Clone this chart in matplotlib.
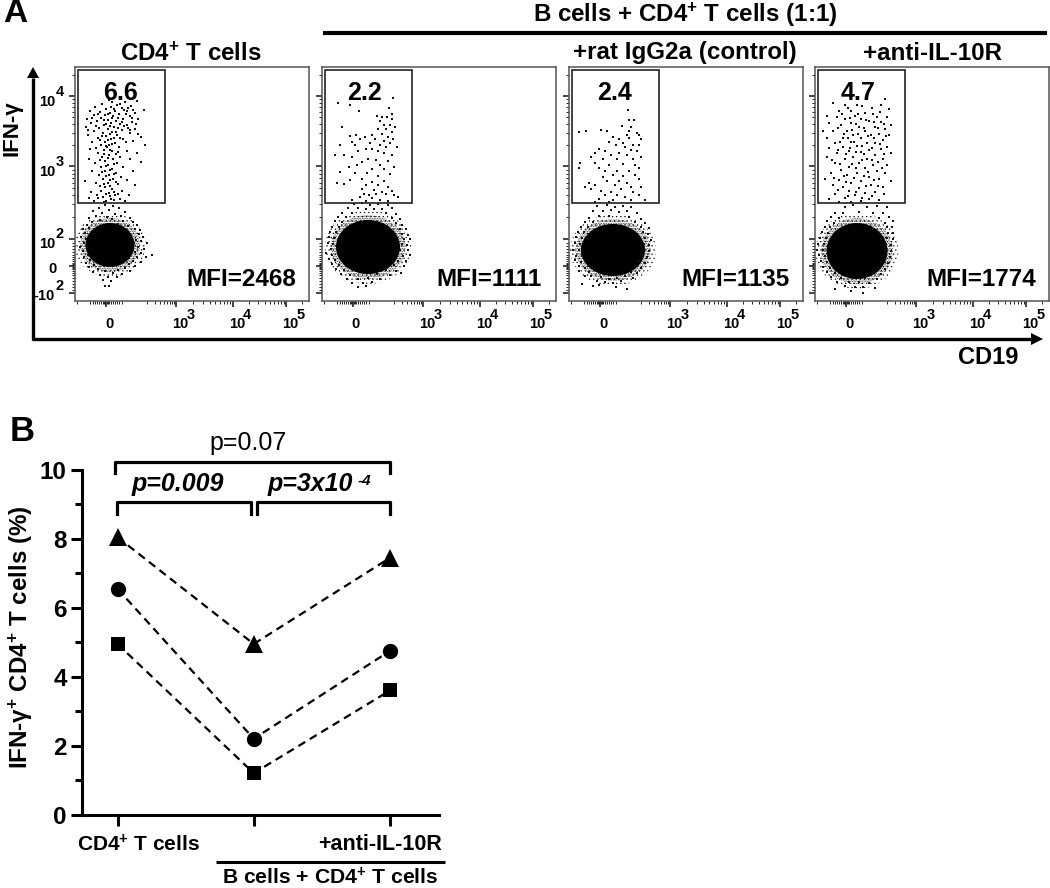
import numpy as np
import matplotlib
matplotlib.use('Agg')
import matplotlib.pyplot as plt
from matplotlib.patches import Ellipse, Rectangle

plt.rcParams['font.family'] = ['Liberation Sans', 'DejaVu Sans']
plt.rcParams['mathtext.fontset'] = 'custom'
plt.rcParams['mathtext.rm'] = 'Liberation Sans:bold'
plt.rcParams['mathtext.default'] = 'rm'
plt.rcParams['hatch.linewidth'] = 0.4

# panel B values
groups = ['CD4$^{+}$ T cells', '', '+anti-IL-10R']
triangle_vals = [8.05, 4.95, 7.45]
circle_vals = [6.55, 2.2, 4.75]
square_vals = [4.95, 1.2, 3.6]

# panel A labels
panel_gates = ['6.6', '2.2', '2.4', '4.7']
panel_mfi = ['MFI=2468', 'MFI=1111', 'MFI=1135', 'MFI=1774']

# cells, in cytometer channels (x, y), y counted from the top
gate_1 = [(34,33),(62,34),(50,35),(27,37),(42,38),(56,39),(20,40),(36,40),(47,41),(69,43),(31,42),(15,44),
          (40,44),(52,44),(25,45),(60,46),(35,46),(44,47),(19,48),(30,48),(55,49),(38,49),(12,52),(26,51),
          (48,52),(63,52),(33,53),(41,54),(22,54),(57,55),(16,56),(36,56),(45,57),(29,58),(52,58),(11,60),
          (39,60),(24,61),(33,62),(60,62),(47,63),(19,64),(37,65),(28,66),(55,66),(13,68),(42,68),(31,69),
          (66,70),(23,71),(36,72),(48,72),(58,74),(17,75),(30,75),(40,76),(26,78),(34,78),(70,78),(44,80),
          (15,82),(32,80),(29,83),(37,84),(52,84),(23,86),(41,87),(62,86),(34,88),(27,90),(45,90),(14,92),
          (38,92),(55,92),(30,94),(20,96),(42,96),(33,98),(66,95),(26,100),(48,100),(37,102),(17,104),(30,104),
          (58,104),(41,106),(24,108),(34,108),(46,110),(28,112),(38,112),(10,114),(52,113),(21,116),(33,116),
          (43,117),(30,120),(60,118),(37,122),(26,124),(16,125),(47,124),(34,126),(22,128),(40,128),(54,128),
          (28,130),(14,131),(36,132),(45,132),(19,134),(31,134),(50,134),
          (37,35),(45,37),(53,41),(39,42),(49,43),(58,43),(33,47),(43,51),(51,47),(37,51),(29,53),(47,55),
          (35,59),(43,61),(31,57),(53,61),(41,65),(21,59),(35,67),(27,69),(45,71),(33,73),(39,71),(25,73),
          (31,79),(37,77),(29,87),(35,83),(43,85),(33,91),(25,93),(39,97),(31,99),(35,103),(27,105),(39,107),
          (31,109),(35,113),(29,117),(41,115),(35,119),(25,119),(39,125),(31,127),(23,131),(43,127),(35,129),
          (29,135),(39,133),(57,51),(61,57),(49,59),(55,63),(63,67),(17,51),(23,47),(13,63),(21,81),(51,75)]
halo_1 = [(30,138),(38,139),(24,141),(44,141),(18,144),(34,143),(50,145),(27,146),(40,147),(21,149),(46,149),
          (14,151),(32,150),(55,151),(37,152),(25,153),(48,154),(17,155),(58,155),(12,158),(43,157),(62,158),
          (8,162),(53,159),(14,161),(60,162),(65,163),(10,166),(64,167),(6,170),(68,170),(11,172),(61,173),
          (66,174),(9,176),(59,176),(72,176),(5,180),(12,180),(63,180),(69,182),(8,184),(60,185),(66,186),
          (13,188),(62,190),(9,190),(71,190),(77,188),(15,193),(58,194),(66,195),(11,196),(54,197),(19,198),
          (60,199),(14,200),(50,201),(23,202),(43,203),(30,204),(55,204),(18,205),(38,206),(47,207),(25,208),
          (33,210),(42,210),(28,213),(36,214),(30,219),(34,219)]
gate_2 = [(16,36),(28,38),(37,44),(71,31),(67,41),(70,47),(55,49),(60,50),(65,50),(58,54),(70,52),(68,58),
          (62,58),(73,60),(20,60),(56,62),(64,62),(70,65),(28,69),(34,68),(50,68),(60,67),(66,70),(43,70),
          (53,72),(71,72),(62,74),(38,72),(30,75),(48,76),(68,76),(58,78),(18,78),(33,78),(64,80),(75,80),
          (50,82),(44,82),(13,88),(22,88),(36,84),(56,84),(62,86),(70,88),(30,90),(46,92),(54,93),(66,94),
          (40,95),(35,98),(58,98),(72,100),(27,100),(50,102),(62,102),(18,105),(33,106),(45,106),(68,107),
          (56,109),(40,112),(28,113),(62,114),(50,115),(15,116),(22,117),(44,118),(56,118),(66,120),(40,122),
          (52,123),(60,125),(70,124),(42,127),(47,128),(54,127),(64,127),(72,128),(38,130),(50,131),(76,130),
          (30,133),(58,133),(66,134),(44,134)]
halo_2 = [(32,137),(40,136),(48,138),(56,137),(66,138),(26,141),(36,141),(44,142),(52,142),(60,142),(70,141),
          (20,146),(30,146),(64,146),(74,147),(16,150),(24,150),(70,151),(78,152),(13,154),(20,155),(74,156),
          (80,158),(10,160),(17,160),(78,162),(84,162),(8,165),(14,165),(80,167),(86,168),(7,170),(12,171),
          (82,172),(88,172),(6,176),(11,177),(80,177),(85,178),(9,182),(78,183),(86,183),(4,186),(10,188),
          (81,189),(88,188),(7,192),(13,193),(76,194),(84,194),(10,197),(17,198),(72,198),(82,199),(14,202),
          (22,203),(64,203),(74,204),(79,206),(19,207),(28,208),(55,207),(68,208),(25,212),(36,212),(46,211),
          (58,212),(30,216),(41,216),(50,215),(36,220),(44,219)]
gate_3 = [(59,43),(60,53),(65,53),(53,59),(62,60),(60,64),(10,65),(17,64),(32,63),(38,64),(68,66),(70,68),
          (58,68),(44,70),(50,72),(60,71),(72,72),(40,75),(54,76),(64,78),(47,78),(70,78),(56,80),(30,82),
          (62,83),(36,84),(50,86),(68,84),(26,86),(42,88),(58,88),(22,90),(72,90),(34,92),(48,92),(64,92),
          (11,96),(26,96),(40,98),(54,97),(66,98),(10,101),(30,101),(70,101),(36,104),(48,104),(60,104),
          (34,110),(44,108),(54,109),(66,108),(70,112),(50,114),(58,116),(20,116),(26,118),(38,114),(46,118),
          (16,120),(62,120),(72,120),(22,122),(52,122),(32,124),(42,125),(64,125),(48,128),(36,128),(70,128),
          (56,130),(30,132),(44,133),(62,133),(76,133),(26,135),(40,135)]
halo_3 = [(28,139),(38,138),(46,140),(54,139),(62,140),(24,144),(34,144),(42,143),(50,145),(58,144),(68,146),
          (30,149),(40,149),(60,150),(20,151),(72,152),(16,155),(24,155),(66,155),(76,156),(12,160),(19,160),
          (72,160),(80,161),(9,165),(15,165),(74,165),(79,167),(7,170),(13,171),(76,171),(82,173),(6,176),
          (11,177),(75,177),(80,178),(4,183),(10,183),(73,183),(80,184),(7,189),(13,189),(74,189),(78,190),
          (6,193),(12,195),(70,194),(76,196),(10,199),(16,201),(66,199),(72,201),(10,204),(20,205),(62,205),
          (68,206),(22,209),(32,210),(56,209),(64,211),(16,209),(40,212),(48,211),(28,214),(52,214),(36,215),
          (44,216),(13,217),(24,219),(47,220),(58,222),(30,218)]
gate_4 = [(70,32),(18,36),(30,38),(42,38),(66,38),(74,42),(24,44),(36,44),(50,46),(58,47),(12,49),(22,50),
          (40,49),(62,50),(72,50),(30,52),(46,52),(54,54),(66,55),(14,56),(36,56),(76,58),(26,58),(44,60),
          (60,60),(70,62),(8,64),(18,64),(32,64),(50,64),(38,68),(64,67),(56,68),(74,68),(12,71),(28,71),
          (46,71),(68,73),(36,75),(20,76),(52,76),(60,76),(42,79),(28,80),(72,80),(14,81),(54,83),(66,82),
          (34,84),(46,85),(22,86),(76,86),(60,88),(38,90),(12,90),(52,92),(30,92),(68,92),(44,96),(20,96),
          (58,98),(72,98),(34,100),(50,101),(26,103),(62,104),(16,106),(42,106),(70,106),(32,108),(54,110),
          (10,112),(24,113),(46,114),(64,112),(36,116),(76,114),(18,118),(56,118),(28,120),(44,121),(68,120),
          (34,124),(50,126),(60,125),(20,127),(40,128),(30,131),(54,132),(14,132),(46,134),(36,135),(64,133),
          (24,135),
          (33,41),(47,39),(57,41),(27,47),(43,47),(65,45),(51,53),(35,51),(59,55),(41,57),(69,57),(23,61),
          (49,61),(37,63),(63,61),(29,67),(53,69),(43,67),(71,69),(33,71),(59,71),(25,75),(39,75),(47,79),
          (65,77),(35,81),(57,81),(23,83),(49,87),(41,85),(69,87),(31,87),(57,93),(17,93),(47,93),(63,95),
          (37,97),(25,97),(53,105),(41,101),(67,101),(29,109),(49,109),(19,111),(59,113),(39,111),(31,115),
          (51,119),(63,119),(23,123),(41,125),(69,127),(33,129),(57,129),(47,131)]
halo_4 = [(30,140),(38,138),(52,140),(62,139),(72,140),(20,146),(28,146),(44,145),(58,146),(68,146),(16,150),
          (24,151),(64,151),(74,150),(12,154),(19,156),(70,156),(78,154),(10,160),(15,160),(72,160),(77,160),
          (7,165),(13,166),(73,166),(78,166),(5,171),(11,171),(72,171),(78,172),(3,177),(9,177),(71,177),
          (76,178),(2,183),(8,183),(70,183),(76,184),(4,188),(10,189),(68,189),(75,190),(6,194),(12,195),
          (66,195),(73,196),(8,200),(15,201),(63,200),(70,202),(12,205),(20,206),(58,206),(66,207),(16,210),
          (26,211),(50,211),(62,212),(22,215),(34,215),(44,215),(54,216),(30,219),(40,220),(48,220),(60,221),
          (20,222),(36,224),(48,226)]
panel_gate_cells = [gate_1, gate_2, gate_3, gate_4]
panel_halo_cells = [halo_1, halo_2, halo_3, halo_4]

# dense population: centre x, centre y, width, height
core_1 = (35, 178, 45, 40)
core_2 = (46, 180, 60, 50)
core_3 = (44, 183, 60, 48)
core_4 = (42, 184, 57, 52)
panel_cores = [core_1, core_2, core_3, core_4]

W, H = 1050, 888
fig = plt.figure(figsize=(W / 100, H / 100), dpi=100)

# overlay in pixels for labels, brackets and the long arrows
ov = fig.add_axes([0, 0, 1, 1])
ov.set_xlim(0, W)
ov.set_ylim(H, 0)
ov.axis('off')


def pix_axes(left, top, right, bottom):
    return fig.add_axes([left / W, 1 - bottom / H, (right - left) / W, (bottom - top) / H])


def log_ticks(p10, decade, last=9):
    return [p10 + decade * np.log10(m) for m in range(2, last + 1)]


# flow plots
panel_left = [75, 322, 569, 815]
gate_text_x = [45, 42, 45, 43]
x_major = [31, 101, 157.5, 211]
x_minor = [2, 15, 18, 20, 22, 24, 26, 28, 29, 30, 32, 33, 34, 36, 38, 40, 42, 44, 47] \
    + log_ticks(60, 41) + log_ticks(101, 56.5) + log_ticks(157.5, 53.5) + log_ticks(211, 53, 2)
y_major = [29, 99.5, 172, 199, 226]
y_minor = log_ticks(99.5, -70.5) + log_ticks(172, -72.5) + log_ticks(29, -70.5, 2) \
    + [176, 179, 182, 185, 188, 190, 192, 194, 196, 197, 198, 200, 201, 202, 204, 206, 208, 211, 214, 217, 220, 223]

for i, left in enumerate(panel_left):
    ax = pix_axes(left, 67, left + 234, 301)
    ax.set_xlim(0, 234)
    ax.set_ylim(234, 0)
    for s in ax.spines.values():
        s.set_color('#555555')
        s.set_linewidth(1.1)
    ax.set_xticks(x_major)
    ax.set_xticks(x_minor, minor=True)
    ax.set_yticks(y_major)
    ax.set_yticks(y_minor, minor=True)
    ax.set_xticklabels([])
    ax.set_yticklabels([])
    ax.tick_params(which='major', length=4.5, width=1.1, color='#111111')
    ax.tick_params(which='minor', length=2.5, width=0.7, color='#222222')

    cx, cy, cw, ch = panel_cores[i]
    ax.add_patch(Ellipse((cx, cy), cw + 26, ch + 24, fc='none', ec='#111111', lw=0, hatch='....'))
    ax.add_patch(Ellipse((cx, cy), cw + 15, ch + 14, fc='none', ec='#000000', lw=0, hatch='..........'))
    ax.add_patch(Ellipse((cx, cy), cw + 4, ch + 4, fc='#000000', ec='none'))

    pts = panel_gate_cells[i] + panel_halo_cells[i]
    ax.scatter([p[0] for p in pts], [p[1] for p in pts], s=1.3, marker='s', c='#111111', linewidths=0)
    ax.add_patch(Rectangle((3, 3), 86.5, 133, fc='none', ec='#222222', lw=1.2))

    ax.text(gate_text_x[i], 25.5, panel_gates[i], ha='center', va='center', fontsize=18, fontweight='bold')
    ax.text(166.5, 213, panel_mfi[i], ha='center', va='center', fontsize=17.5, fontweight='bold')

    # biexponential tick labels under each plot
    for tx, ex, t, e in [(109, None, '0', None), (180, 190.7, '10', '3'),
                         (237, 247, '10', '4'), (290.5, 301, '10', '5')]:
        ov.text(tx - 75 + left, 324, t, ha='center', va='center', fontsize=10.5, fontweight='bold')
        if e:
            ov.text(ex - 75 + left, 315, e, ha='center', va='center', fontsize=10.5, fontweight='bold')

# y tick labels, first plot only
for ty, t, e in [(101.5, '10', '4'), (172, '10', '3'), (244, '10', '2'), (296, '-10', '2')]:
    ov.text(55, ty, t, ha='right', va='center', fontsize=10.5, fontweight='bold')
    ov.text(59.5, ty - 10, e, ha='center', va='center', fontsize=10.5, fontweight='bold')
ov.text(52.5, 268.5, '0', ha='center', va='center', fontsize=10.5, fontweight='bold')

# panel A headings
ov.text(3, 14, 'A', ha='left', va='center', fontsize=24, fontweight='bold')
ov.text(191, 54, 'CD4$^{+}$ T cells', ha='center', va='center', fontsize=17.4, fontweight='bold')
ov.text(685, 15, 'B cells + CD4$^{+}$ T cells (1:1)', ha='center', va='center', fontsize=17.4, fontweight='bold')
ov.text(685, 53, '+rat IgG2a (control)', ha='center', va='center', fontsize=17.4, fontweight='bold')
ov.text(932, 53, '+anti-IL-10R', ha='center', va='center', fontsize=17.4, fontweight='bold')
ov.plot([323, 1047], [33, 33], color='k', lw=3, solid_capstyle='butt')

# long axis arrows
ov.plot([33, 33], [340.5, 78], color='k', lw=2.4, solid_capstyle='butt')
ov.plot([32, 1032], [339, 339], color='k', lw=2.4, solid_capstyle='butt')
ov.fill([33, 27, 39], [67, 78, 78], color='k', lw=0)
ov.fill([1043, 1031, 1031], [339, 333, 345], color='k', lw=0)
ov.text(12, 128, 'IFN-γ', rotation=90, ha='center', va='center', fontsize=16, fontweight='bold')
ov.text(988, 357, 'CD19', ha='center', va='center', fontsize=17, fontweight='bold')

# panel B
bx = pix_axes(82, 470, 439, 814.5)
bx.set_xlim((82 - 117.5) / 136.25, (439 - 117.5) / 136.25)
bx.set_ylim(0, 10)
bx.patch.set_alpha(0)
x_pos = np.arange(len(groups))
line_kw = dict(color='k', ls=(0, (3.6, 2.4)), lw=1.6, ms=11, mew=0, clip_on=False)
bx.plot(x_pos, triangle_vals, marker='^', **{**line_kw, 'ms': 12.5})
bx.plot(x_pos, circle_vals, marker='o', **line_kw)
bx.plot(x_pos, square_vals, marker='s', **{**line_kw, 'ms': 10.5})
for s in ['top', 'right']:
    bx.spines[s].set_visible(False)
for s in ['left', 'bottom']:
    bx.spines[s].set_linewidth(2.2)
bx.set_xticks(x_pos)
bx.set_xticklabels([])
bx.set_yticks(range(0, 11, 2))
bx.set_yticks(range(1, 11, 2), minor=True)
bx.tick_params(which='major', length=8, width=2.2, labelsize=17.5, pad=3)
bx.tick_params(which='minor', length=5, width=2.2)
for lab in bx.get_yticklabels():
    lab.set_fontweight('bold')

ov.text(10, 431, 'B', ha='left', va='center', fontsize=25, fontweight='bold')
ov.text(21, 637, 'IFN-γ$^{+}$ CD4$^{+}$ T cells (%)', rotation=90, ha='center', va='center',
        fontsize=17.4, fontweight='bold')
ov.text(138, 845, groups[0], ha='center', va='center', fontsize=15, fontweight='bold')
ov.text(380, 844, groups[2], ha='center', va='center', fontsize=15.5, fontweight='bold')
ov.plot([216, 445], [861.5, 861.5], color='k', lw=2.2, solid_capstyle='butt')
ov.text(330, 878, 'B cells + CD4$^{+}$ T cells', ha='center', va='center', fontsize=15.2, fontweight='bold')

# significance brackets
for xa, xb, ytop, ybot in [(115, 390, 461.5, 472.5), (117, 251, 502, 514), (257, 390, 502, 514)]:
    ov.plot([xa, xa, xb, xb], [ybot, ytop, ytop, ybot], color='k', lw=2.3, solid_joinstyle='round')
ov.text(248, 443, 'p=0.07', ha='center', va='center', fontsize=18)
ov.text(178, 484, 'p=0.009', ha='center', va='center', fontsize=18, fontweight='bold', style='italic')
ov.text(268, 484, 'p=3x10', ha='left', va='center', fontsize=18, fontweight='bold', style='italic')
ov.text(358, 481, '-4', ha='left', va='center', fontsize=11, fontweight='bold', style='italic')

plt.savefig('out.png', dpi=100)
